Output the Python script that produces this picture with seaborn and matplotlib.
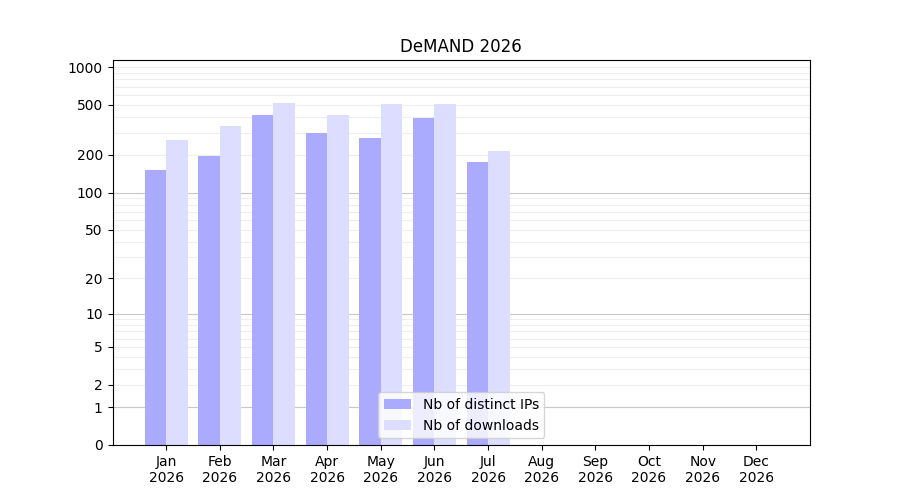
import numpy as np
import pandas as pd
import matplotlib
matplotlib.use("Agg")
import matplotlib.pyplot as plt
import seaborn as sns

months = ['Jan\n2026', 'Feb\n2026', 'Mar\n2026', 'Apr\n2026', 'May\n2026', 'Jun\n2026',
          'Jul\n2026', 'Aug\n2026', 'Sep\n2026', 'Oct\n2026', 'Nov\n2026', 'Dec\n2026']
ips = [152, 197, 415, 300, 275, 395, 175, np.nan, np.nan, np.nan, np.nan, np.nan]
downloads = [265, 340, 515, 415, 505, 505, 215, np.nan, np.nan, np.nan, np.nan, np.nan]

df = pd.DataFrame({
    'month': months * 2,
    'value': ips + downloads,
    'series': ['Nb of distinct IPs'] * 12 + ['Nb of downloads'] * 12,
})

fig, ax = plt.subplots(figsize=(9, 5), dpi=100)
ax.set_yscale('function', functions=(lambda x: np.log10(1 + np.clip(x, 0, None)),
                                     lambda y: 10 ** y - 1))
sns.barplot(data=df, x='month', y='value', hue='series', order=months,
            palette=['#aaaaff', '#ddddff'], linewidth=0, saturation=1, ax=ax, zorder=2)

minor = [v * d for d in (1, 10, 100) for v in range(2, 10)] + [1000]
for v in minor:
    ax.axhline(v, color='#eeeeee', linewidth=0.8, zorder=0)
for v in (1, 10, 100):
    ax.axhline(v, color='#c8c8c8', linewidth=0.8, zorder=1)

yt = [0, 1, 2, 5, 10, 20, 50, 100, 200, 500, 1000]
ax.set_yticks(yt)
ax.set_yticklabels([str(v) for v in yt])
ax.minorticks_off()
ax.set_ylim(0, 1137)
ax.set_xlim(-1, 12)
ax.set_xlabel('')
ax.set_ylabel('')
ax.set_title('DeMAND 2026')
ax.legend(loc='lower center')
plt.savefig('out.png', dpi=100)
